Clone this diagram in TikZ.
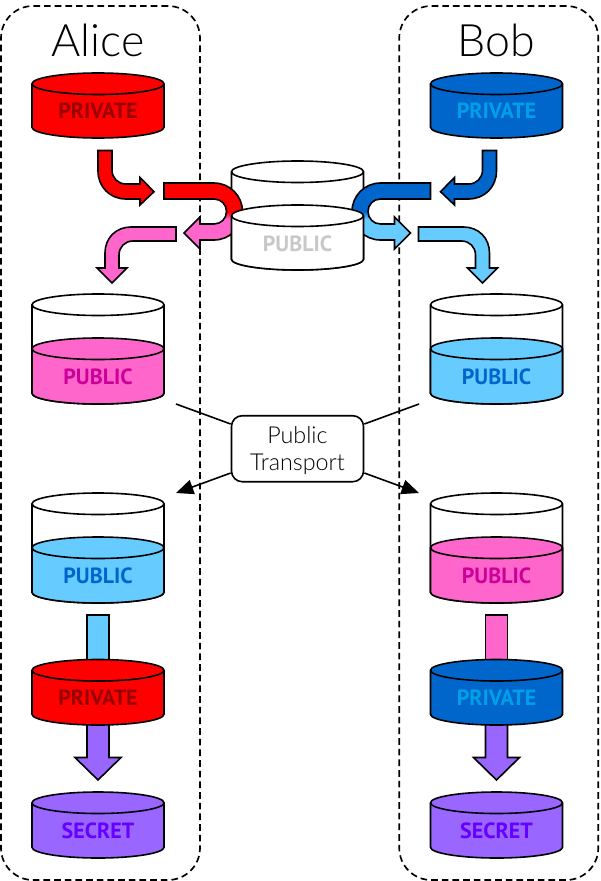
\documentclass[tikz,border=0pt]{standalone}
\usepackage{fontspec}
\setmainfont{Lato Light}
\newfontfamily\boldlabel{PT Sans Bold}
\usetikzlibrary{arrows.meta}
\definecolor{cRed}{HTML}{FF0000}
\definecolor{cRedT}{HTML}{990000}
\definecolor{cPink}{HTML}{FF66CC}
\definecolor{cPinkT}{HTML}{CC0099}
\definecolor{cLight}{HTML}{66CCFF}
\definecolor{cDark}{HTML}{0066CC}
\definecolor{cDarkT}{HTML}{00A0E8}
\definecolor{cPurple}{HTML}{9966FF}
\definecolor{cPurpleT}{HTML}{6600FF}
\definecolor{cGrayT}{HTML}{C8C8C8}
\tikzset{
  x=0.75pt,y=-0.75pt,
  party/.style={draw,dashed,line width=1.25pt,dash pattern=on 5pt off 3pt,rounded corners=24pt},
  cylline/.style={draw=black,line width=1.2pt},
  fat/.style={draw=black,line width=1.2pt,line join=miter},
  lbl/.style={font=\boldlabel\fontsize{16.5}{18}\selectfont,inner sep=0pt},
  title/.style={font=\fontsize{33.5}{36}\selectfont,inner sep=0pt},
  wire/.style={draw=black,line width=1.2pt},
  wirehead/.style={wire,-{Triangle[length=13pt,width=11pt]}},
  transport/.style={draw=black,line width=1.2pt,fill=white,rounded corners=8pt,minimum width=99pt,minimum height=49.5pt,inner sep=0pt},
  transportlabel/.style={inner sep=0pt,align=center,font=\fontsize{17.5}{20}\selectfont},
}
% \cyl{name}{cx}{top}{bottom}{fill}
\newcommand\cyl[5]{%
  \pgfmathsetmacro\cta{#3+10.75}\pgfmathsetmacro\ctb{#3+21.5}%
  \pgfmathsetmacro\cba{#4-10.75}\pgfmathsetmacro\cxl{#2-66}\pgfmathsetmacro\cxr{#2+66}%
  \pgfmathsetmacro\cka{#3+10.75-5.9}\pgfmathsetmacro\ckb{#3+10.75+5.9}\pgfmathsetmacro\ckc{#4-10.75+5.9}%
  \pgfmathsetmacro\cxa{#2-36.3}\pgfmathsetmacro\cxb{#2+36.3}%
  \path[fill=#5,cylline] (\cxl,\cta) .. controls (\cxl,\cka) and (\cxa,#3) .. (#2,#3)
     .. controls (\cxb,#3) and (\cxr,\cka) .. (\cxr,\cta) -- (\cxr,\cba)
     .. controls (\cxr,\ckc) and (\cxb,#4) .. (#2,#4)
     .. controls (\cxa,#4) and (\cxl,\ckc) .. (\cxl,\cba) -- cycle;
  \draw[cylline] (\cxl,\cta) .. controls (\cxl,\ckb) and (\cxa,\ctb) .. (#2,\ctb)
     .. controls (\cxb,\ctb) and (\cxr,\ckb) .. (\cxr,\cta);
}
% the exchange arrows of one side, drawn in Alice's coordinates
\newcommand\bentin[1]{%
  \path[fat,fill=#1] (98,150.5) -- (112,150.5) -- (112,170) .. controls (112,178) and (118,184) .. (126,184)
    -- (140,184) -- (140,177.5) -- (154,191.7) -- (140,205) -- (140,199) -- (126,199)
    .. controls (110,199) and (98,187) .. (98,171) -- cycle;}
\newcommand\uturnpath{(164,183) -- (214,183) .. controls (230,183) and (242.5,196) .. (242.5,211.5)
    .. controls (242.5,227) and (230,240) .. (214,240) -- (200,240) -- (200,249) -- (184,233) -- (200,217)
    -- (200,224) -- (214,224) .. controls (221,224) and (226.5,218.5) .. (226.5,211.5)
    .. controls (226.5,204.5) and (221,199) .. (214,199) -- (164,199) -- cycle}
\newcommand\uturn[2]{%
  \begin{scope}
    \clip \uturnpath;
    \fill[#1] (150,175) rectangle (250,212);
    \fill[#2] (150,219) rectangle (250,255);
    \shade[top color=#1,bottom color=#2] (150,212) rectangle (250,219);
  \end{scope}
  \path[fat] \uturnpath;}
\newcommand\bentout[1]{%
  \path[fat,fill=#1] (176,227) -- (131,227) .. controls (116,227) and (105,238) .. (105,253) -- (105,268)
    -- (97,268) -- (112,283) -- (127,268) -- (119,268) -- (119,255)
    .. controls (119,247) and (125,241) .. (133,241) -- (176,241) -- cycle;}
\newcommand\feedbar[1]{\path[fat,fill=#1] (87,615) rectangle (109,670);}
\newcommand\feedarrow[1]{\path[fat,fill=#1] (87,715) -- (109,715) -- (109,757.5) -- (121,757.5) -- (98,780) -- (75,757.5) -- (87,757.5) -- cycle;}
\begin{document}
\begin{tikzpicture}
\useasboundingbox (0,0) rectangle (600,881);
% party frames
\node[party,minimum width=149.25pt,minimum height=655.5pt,inner sep=0pt] (aliceframe) at (100.5,443) {};
\node[party,minimum width=149.25pt,minimum height=655.5pt,inner sep=0pt] (bobframe) at (498.75,443) {};
\node[title] (alice) at (98,40.5) {Alice};
\node[title] (bob) at (496.5,40.5) {Bob};
% shared public store, back part
\cyl{c}{297.5}{161}{270}{white}
% arrows
\bentin{cRed}\uturn{cRed}{cPink}\bentout{cPink}
\begin{scope}[shift={(594.5,0)},xscale=-1]
\bentin{cDark}\uturn{cDark}{cLight}\bentout{cLight}
\end{scope}
\feedbar{cLight}
\feedarrow{cPurple}
\begin{scope}[shift={(594.5,0)},xscale=-1]
\feedbar{cPink}
\feedarrow{cPurple}
\end{scope}
% shared public store, front part
\cyl{c}{297.5}{205}{270}{white}
\node[lbl,text=cGrayT] (pubshared) at (297.5,244) {PUBLIC};
% Alice column
\cyl{a}{98}{73}{138}{cRed}
\node[lbl,text=cRedT] (a1) at (98,111) {PRIVATE};
\cyl{a}{98}{294}{404}{white}
\cyl{a}{98}{338}{404}{cPink}
\node[lbl,text=cPinkT] (a2) at (98,377) {PUBLIC};
\cyl{a}{98}{493}{603}{white}
\cyl{a}{98}{537}{603}{cLight}
\node[lbl,text=cDark] (a3) at (98,576) {PUBLIC};
\cyl{a}{98}{659.5}{725}{cRed}
\node[lbl,text=cRedT] (a4) at (98,698) {PRIVATE};
\cyl{a}{98}{792}{858}{cPurple}
\node[lbl,text=cPurpleT] (a5) at (98,830.5) {SECRET};
% Bob column
\cyl{b}{496.5}{73}{138}{cDark}
\node[lbl,text=cDarkT] (b1) at (496.5,111) {PRIVATE};
\cyl{b}{496.5}{294}{404}{white}
\cyl{b}{496.5}{338}{404}{cLight}
\node[lbl,text=cDark] (b2) at (496.5,377) {PUBLIC};
\cyl{b}{496.5}{493}{603}{white}
\cyl{b}{496.5}{537}{603}{cPink}
\node[lbl,text=cPinkT] (b3) at (496.5,576) {PUBLIC};
\cyl{b}{496.5}{659.5}{725}{cDark}
\node[lbl,text=cDarkT] (b4) at (496.5,698) {PRIVATE};
\cyl{b}{496.5}{792}{858}{cPurple}
\node[lbl,text=cPurpleT] (b5) at (496.5,830.5) {SECRET};
% transport
\node[transport] (pt) at (297.5,448.7) {};
\node[transportlabel] (ptlabel) at (297.5,450.5) {Public\\Transport};
\coordinate (inA) at (176,404);
\coordinate (inB) at (419,404);
\coordinate (outA) at (176,493);
\coordinate (outB) at (419,493);
\draw[wire] (inA) -- (pt.west |- 0,424);
\draw[wire] (inB) -- (pt.east |- 0,424);
\draw[wirehead] (pt.west |- 0,473) -- (outA);
\draw[wirehead] (pt.east |- 0,473) -- (outB);
\end{tikzpicture}
\end{document}
